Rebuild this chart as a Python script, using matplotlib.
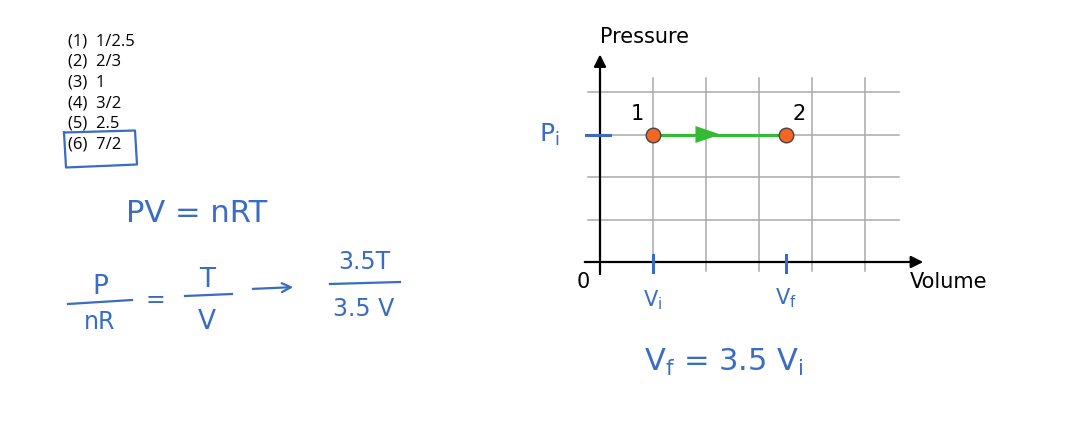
import matplotlib.pyplot as plt

# answer choices in the corner list
choices = ['1/2.5', '2/3', '1', '3/2', '2.5', '7/2']
picked = 5  # (6) is boxed

# the two states on the P-V diagram (in grid units)
vol = [1.0, 3.5]
pres = [3.0, 3.0]
state_names = ['1', '2']
grid_x = [1, 2, 3, 4, 5]
grid_y = [1, 2, 3, 4]

ink = '#3a6cc4'
hand = dict(color=ink, family='DejaVu Sans')

W, H = 1076, 424
fig = plt.figure(figsize=(W / 100, H / 100), dpi=100)

# overlay in pixel coords for the handwritten notes
note = fig.add_axes([0, 0, 1, 1])
note.set_xlim(0, W)
note.set_ylim(H, 0)
note.axis('off')

# diagram axes: origin at (600, 262) px, 53 px per V unit, 42.5 px per P unit
ax = fig.add_axes([600 / W, (H - 262) / H, 265 / W, 170 / H])
ax.set_xlim(0, 5)
ax.set_ylim(0, 4)
ax.axis('off')

for gx in grid_x:
    ax.plot([gx, gx], [-0.2, 4.33], color='#aaaaaa', lw=1.1, clip_on=False, zorder=1)
for gy in grid_y:
    ax.plot([-0.23, 5.64], [gy, gy], color='#aaaaaa', lw=1.1, clip_on=False, zorder=1)

# axes with arrow heads
ax.annotate('', xy=(6.15, 0), xytext=(-0.34, 0),
            arrowprops=dict(arrowstyle='-|>', color='black', lw=1.6, mutation_scale=18),
            annotation_clip=False, zorder=3)
ax.annotate('', xy=(0, 4.95), xytext=(0, -0.35),
            arrowprops=dict(arrowstyle='-|>', color='black', lw=1.6, mutation_scale=18),
            annotation_clip=False, zorder=3)

ax.text(0, 5.05, 'Pressure', fontsize=15, ha='left', va='bottom', clip_on=False)
ax.text(5.85, -0.47, 'Volume', fontsize=15, ha='left', va='center', clip_on=False)
ax.text(-0.32, -0.47, '0', fontsize=15, ha='center', va='center', clip_on=False)

# isobaric expansion 1 -> 2
ax.plot(vol, pres, color='#33bb33', lw=2.2, clip_on=False, zorder=4)
mid = vol[0] + 0.53 * (vol[1] - vol[0])
ax.annotate('', xy=(mid, pres[0]), xytext=(mid - 0.45, pres[0]),
            arrowprops=dict(arrowstyle='-|>,head_length=0.5,head_width=0.17',
                            color='#33bb33', lw=0, mutation_scale=36),
            annotation_clip=False, zorder=5)
ax.plot(vol, pres, 'o', ms=10.5, mfc='#f26522', mec='#444444', mew=1.0,
        clip_on=False, zorder=6)
for v, p, s in zip(vol, pres, state_names):
    ax.text(v + (-0.3 if s == '1' else 0.26), p + 0.48, s, fontsize=15,
            ha='center', va='center', clip_on=False)

# handwritten ticks on the diagram
ax.plot([-0.26, 0.19], [pres[0], pres[0]], color=ink, lw=2.2, clip_on=False, zorder=7)
for v in vol:
    ax.plot([v, v], [0.16, -0.23], color=ink, lw=2.2, clip_on=False, zorder=7)
ax.text(-0.95, pres[0], r'$\mathregular{P_i}$', fontsize=18, ha='center', va='center',
        clip_on=False, color=ink)
ax.text(vol[0], -0.9, r'$\mathregular{V_i}$', fontsize=15, ha='center', va='center',
        clip_on=False, color=ink)
ax.text(vol[1], -0.85, r'$\mathregular{V_f}$', fontsize=15, ha='center', va='center',
        clip_on=False, color=ink)

# multiple-choice list
for i, c in enumerate(choices):
    note.text(68, 41 + i * 20.7, '(%d)  %s' % (i + 1, c), fontsize=12,
              family='Open Sans', ha='left', va='center')
yb = 41 + picked * 20.7
note.plot([64, 135, 137, 66, 64], [yb - 12, yb - 14, yb + 20, yb + 23, yb - 12],
          color=ink, lw=1.6)

# handwritten work
note.text(197, 213, 'PV = nRT', fontsize=22, ha='center', va='center', **hand)
note.text(100, 287, 'P', fontsize=19, ha='center', va='center', **hand)
note.plot([68, 132], [304, 300], color=ink, lw=1.6)
note.text(100, 322, 'nR', fontsize=17, ha='center', va='center', **hand)
note.text(155, 300, '=', fontsize=17, ha='center', va='center', **hand)
note.text(207, 280, 'T', fontsize=19, ha='center', va='center', **hand)
note.plot([185, 232], [296, 294], color=ink, lw=1.6)
note.text(207, 322, 'V', fontsize=19, ha='center', va='center', **hand)
note.annotate('', xy=(296, 287), xytext=(250, 289),
              arrowprops=dict(arrowstyle='->', color=ink, lw=1.6, mutation_scale=16))
note.text(364, 262, '3.5T', fontsize=17, ha='center', va='center', **hand)
note.plot([330, 400], [284, 282], color=ink, lw=1.6)
note.text(364, 309, '3.5 V', fontsize=17, ha='center', va='center', **hand)

note.text(724, 362, r'$\mathregular{V_f}$ = 3.5 $\mathregular{V_i}$', fontsize=22,
          ha='center', va='center', **hand)

fig.savefig('out.png', dpi=100, facecolor='white')
